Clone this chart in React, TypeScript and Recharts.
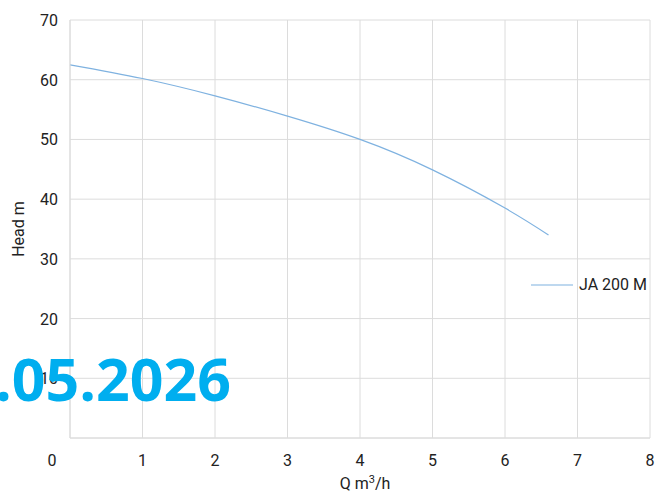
import React from 'react';
import { LineChart, Line, XAxis, YAxis, CartesianGrid } from 'recharts';

const flowQ = [0, 1, 2, 3, 4, 5, 6, 6.6];
const headM = [62.5, 60.2, 57.3, 53.9, 50.0, 44.9, 38.5, 34];
const xTicks = [0, 1, 2, 3, 4, 5, 6, 7, 8];
const yTicks = [0, 10, 20, 30, 40, 50, 60, 70];

const data = flowQ.map((q, i) => ({ q, head: headM[i] }));

const FONT = 'Roboto, "Liberation Sans", sans-serif';
const LINE_COLOR = '#7fb2e0';

const XTick = (props: any) => {
  const { x, y, payload } = props;
  // the first label sits further left, under the y axis labels
  const dx = payload.value === 0 ? -18 : 0;
  return (
    <text x={x + dx} y={y + 20} textAnchor="middle" fontSize={16} fill="#222" fontFamily={FONT}>
      {payload.value}
    </text>
  );
};

const YTick = (props: any) => {
  const { x, y, payload } = props;
  if (payload.value === 0) return null;
  return (
    <text x={x - 4} y={y + 6} textAnchor="end" fontSize={16} fill="#222" fontFamily={FONT}>
      {payload.value}
    </text>
  );
};

export default function App() {
  return (
    <div style={{ position: 'absolute', left: 0, top: 0, width: 655, height: 493, background: '#fff' }}>
      <LineChart width={655} height={493} data={data} margin={{ top: 20, right: 5, bottom: 0, left: 0 }}>
        <CartesianGrid stroke="#dcdcdc" />
        <XAxis
          dataKey="q"
          type="number"
          domain={[0, 8]}
          ticks={xTicks}
          height={55}
          axisLine={{ stroke: '#dcdcdc' }}
          tickLine={false}
          tick={<XTick />}
          label={{
            position: 'insideBottom',
            content: () => (
              <text x={365} y={489} textAnchor="middle" fontSize={16} fill="#222" fontFamily={FONT}>
                Q m<tspan dy={-6} fontSize={11}>3</tspan>
                <tspan dy={6}>/h</tspan>
              </text>
            ),
          }}
        />
        <YAxis
          type="number"
          domain={[0, 70]}
          ticks={yTicks}
          width={70}
          axisLine={{ stroke: '#dcdcdc' }}
          tickLine={false}
          tick={<YTick />}
          label={{
            position: 'insideLeft',
            content: () => (
              <text x={24} y={229} textAnchor="middle" fontSize={16} fill="#222" fontFamily={FONT} transform="rotate(-90 24 229)">
                Head m
              </text>
            ),
          }}
        />
        <Line
          dataKey="head"
          name="JA 200 M"
          type="natural"
          stroke={LINE_COLOR}
          strokeWidth={1.2}
          dot={false}
          isAnimationActive={false}
        />
      </LineChart>
      <div
        style={{
          position: 'absolute',
          left: 531,
          top: 275,
          display: 'flex',
          alignItems: 'center',
          fontFamily: FONT,
          fontSize: 16,
          color: '#222',
        }}
      >
        <svg width={42} height={4} style={{ marginRight: 6 }}>
          <line x1={0} y1={2} x2={42} y2={2} stroke={LINE_COLOR} strokeWidth={1.2} />
        </svg>
        JA 200 M
      </div>
      <div
        style={{
          position: 'absolute',
          left: -5,
          top: 349,
          fontFamily: '"Open Sans", "Noto Sans", sans-serif',
          fontWeight: 700,
          fontSize: 59,
          color: '#00aeef',
          lineHeight: 1,
          pointerEvents: 'none',
        }}
      >
        .05.2026
      </div>
    </div>
  );
}
